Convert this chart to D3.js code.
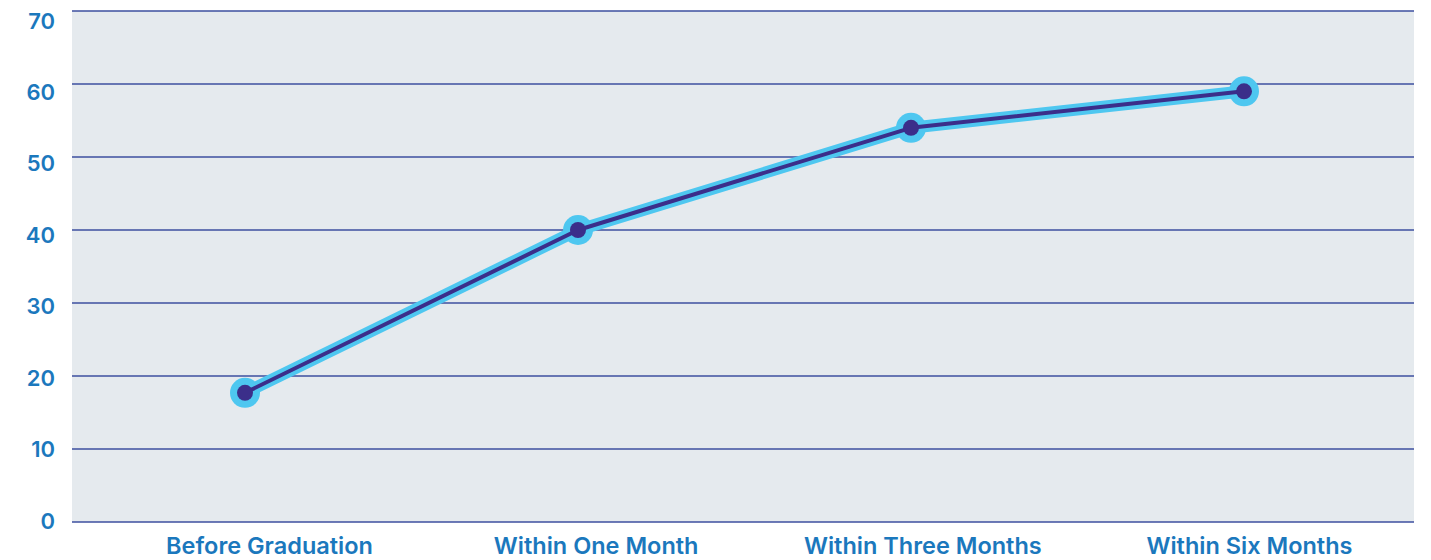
<!DOCTYPE html>
<html>
<head>
<meta charset="utf-8">
<script src="https://cdn.jsdelivr.net/npm/d3@7"></script>
<style>
  body { margin: 0; background: #fff; }
  svg { display: block; font-family: Inter, "Liberation Sans", Arial, sans-serif; }
</style>
</head>
<body>
<svg id="svg01" width="1431" height="560"></svg>
<script>
// data
const categories = ["Before Graduation", "Within One Month", "Within Three Months", "Within Six Months"];
const values = [17.7, 40, 54, 59];
const yTicks = [0, 10, 20, 30, 40, 50, 60, 70];

const data = categories.map((c, i) => ({cat: c, value: values[i]}));

const width = 1431, height = 560;
const plot = {left: 72, right: 1414, top: 11, bottom: 522};

const svg = d3.select("#svg01");

// scales
const x = d3.scalePoint()
    .domain(categories)
    .range([245, 1244]);

// labels sit a bit off the marker positions in the original
const xLabel = d3.scalePoint()
    .domain(categories)
    .range([269, 1249]);

const y = d3.scaleLinear()
    .domain([0, 70])
    .range([plot.bottom, plot.top]);

const yLabel = d3.scaleLinear()
    .domain([0, 70])
    .range([521, 21]);

const blueText = "#1b78bd";

// background
svg.append("rect")
    .attr("x", plot.left)
    .attr("y", plot.top)
    .attr("width", plot.right - plot.left)
    .attr("height", plot.bottom - plot.top)
    .attr("fill", "#e5eaee");

// gridlines
svg.append("g")
  .selectAll("line")
  .data(yTicks)
  .join("line")
    .attr("x1", plot.left)
    .attr("x2", plot.right)
    .attr("y1", d => y(d))
    .attr("y2", d => y(d))
    .attr("stroke", "#3c4f9f")
    .attr("stroke-width", 1.3);

// y labels
const yAxis = g => g
    .attr("transform", `translate(55,0)`)
    .call(d3.axisLeft(yLabel).tickValues(yTicks).tickSize(0).tickPadding(0))
    .call(g => g.select(".domain").remove())
    .call(g => g.selectAll("text")
        .attr("fill", blueText)
        .attr("font-size", 22)
        .attr("font-weight", 600)
        .attr("font-family", "Inter, Liberation Sans, Arial, sans-serif"));

svg.append("g").call(yAxis);

// x labels
const xAxis = g => g
    .attr("transform", `translate(0,537)`)
    .call(d3.axisBottom(xLabel).tickSize(0).tickPadding(0))
    .call(g => g.select(".domain").remove())
    .call(g => g.selectAll("text")
        .attr("fill", blueText)
        .attr("font-size", 23.5)
        .attr("font-weight", 600)
        .attr("font-family", "Inter, Liberation Sans, Arial, sans-serif"));

svg.append("g").call(xAxis);

// line
const line = d3.line()
    .x(d => x(d.cat))
    .y(d => y(d.value));

svg.append("path")
    .attr("d", line(data))
    .attr("fill", "none")
    .attr("stroke", "#4ec7f0")
    .attr("stroke-width", 12)
    .attr("stroke-linejoin", "round");

svg.append("g")
  .selectAll("circle")
  .data(data)
  .join("circle")
    .attr("cx", d => x(d.cat))
    .attr("cy", d => y(d.value))
    .attr("r", 15)
    .attr("fill", "#4ec7f0");

svg.append("path")
    .attr("d", line(data))
    .attr("fill", "none")
    .attr("stroke", "#3b2e8a")
    .attr("stroke-width", 4)
    .attr("stroke-linejoin", "round");

svg.append("g")
  .selectAll("circle")
  .data(data)
  .join("circle")
    .attr("cx", d => x(d.cat))
    .attr("cy", d => y(d.value))
    .attr("r", 8)
    .attr("fill", "#3b2e8a");
</script>
</body>
</html>
